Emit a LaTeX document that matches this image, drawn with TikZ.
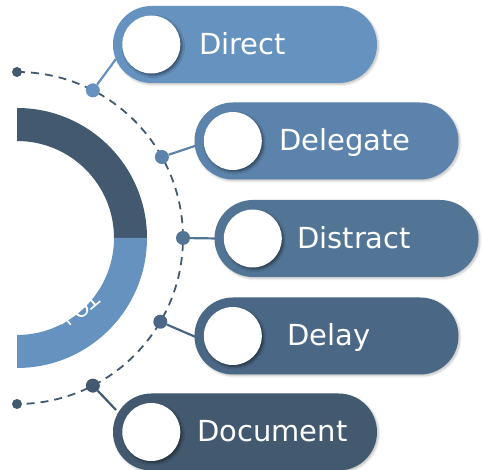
\documentclass[tikz,border=0pt]{standalone}
\usepackage{fontspec}
\setmainfont{DejaVu Sans}
\usetikzlibrary{shapes.misc,shadows.blur,calc}
\definecolor{c1}{HTML}{6592BF}
\definecolor{c2}{HTML}{5C83AB}
\definecolor{c3}{HTML}{527596}
\definecolor{c4}{HTML}{4A6785}
\definecolor{c5}{HTML}{42596F}
\tikzset{
  pill/.style={rounded rectangle, minimum width=264pt, minimum height=77pt, inner sep=0pt,
     blur shadow={shadow xshift=1.5pt, shadow yshift=-1.5pt, shadow opacity=25, shadow blur steps=5}},
  wcirc/.style={circle, fill=white, minimum size=58pt, inner sep=0pt,
     blur shadow={shadow xshift=2pt, shadow yshift=-2pt, shadow opacity=45, shadow blur steps=5}},
  cdot/.style={circle, minimum size=14pt, inner sep=0pt},
  edot/.style={circle, fill=c5, minimum size=10pt, inner sep=0pt},
  lbl/.style={text=white, anchor=base west, inner sep=0pt, font=\fontsize{29}{32}\selectfont},
  conn/.style={line width=2.2pt}
}
\begin{document}
\begin{tikzpicture}[x=1pt,y=1pt]
\useasboundingbox (0,0) rectangle (482,470);
\coordinate (C) at (17,232);
% ring
\fill[c5] ($(C)+(130,0)$) arc (0:90:130) -- ($(C)+(0,97)$) arc (90:0:97) -- cycle;
\fill[c1] ($(C)+(130,0)$) arc (0:-90:130) -- ($(C)+(0,-97)$) arc (-90:0:97) -- cycle;
\node[text=white, rotate=220, font=\fontsize{21}{21}\selectfont, inner sep=0pt] (rt) at ($(C)+(-50:95)$) {TQ+};
% dashed arc
\draw[c5, line width=1.8pt, dash pattern=on 8pt off 6pt] ($(C)+(0,166)$) arc (90:-90:166);
\node[edot] (t0) at ($(C)+(0,166)$) {};
\node[edot] (b0) at ($(C)+(0,-166)$) {};
% connector end points
\coordinate (e1) at (116,411);
\coordinate (e2) at (198,325);
\coordinate (e3) at (218,231.5);
\coordinate (e4) at (198,132);
\coordinate (e5) at (116,60);
% connector dots
\node[cdot, fill=c1] (d1) at ($(C)+(62.8:166)$) {};
\node[cdot, fill=c2] (d2) at ($(C)+(29.2:166)$) {};
\node[cdot, fill=c3] (d3) at ($(C)+(0:166)$) {};
\node[cdot, fill=c4] (d4) at ($(C)+(-30.3:166)$) {};
\node[cdot, fill=c5] (d5) at ($(C)+(-62.8:166)$) {};
\draw[conn, c1] (d1) -- (e1);
\draw[conn, c2] (d2) -- (e2);
\draw[conn, c3] (d3) -- (e3);
\draw[conn, c4] (d4) -- (e4);
\draw[conn, c5] (d5) -- (e5);
% pills
\node[pill, fill=c1] (p1) at (245,425.5) {};
\node[pill, fill=c2] (p2) at (326.5,329) {};
\node[pill, fill=c3] (p3) at (346.5,231.5) {};
\node[pill, fill=c4] (p4) at (326.5,134) {};
\node[pill, fill=c5] (p5) at (245,38) {};
% white circles
\node[wcirc] (w1) at ($(p1.west)+(38.5,0)$) {};
\node[wcirc] (w2) at ($(p2.west)+(38.5,0)$) {};
\node[wcirc] (w3) at ($(p3.west)+(38.5,0)$) {};
\node[wcirc] (w4) at ($(p4.west)+(38.5,0)$) {};
\node[wcirc] (w5) at ($(p5.west)+(38.5,0)$) {};
% labels
\node[lbl] (l1) at (199,415.5) {Direct};
\node[lbl] (l2) at (279,319) {Delegate};
\node[lbl] (l3) at (297,221.5) {Distract};
\node[lbl] (l4) at (287,124) {Delay};
\node[lbl] (l5) at (197,28) {Document};
\end{tikzpicture}
\end{document}
